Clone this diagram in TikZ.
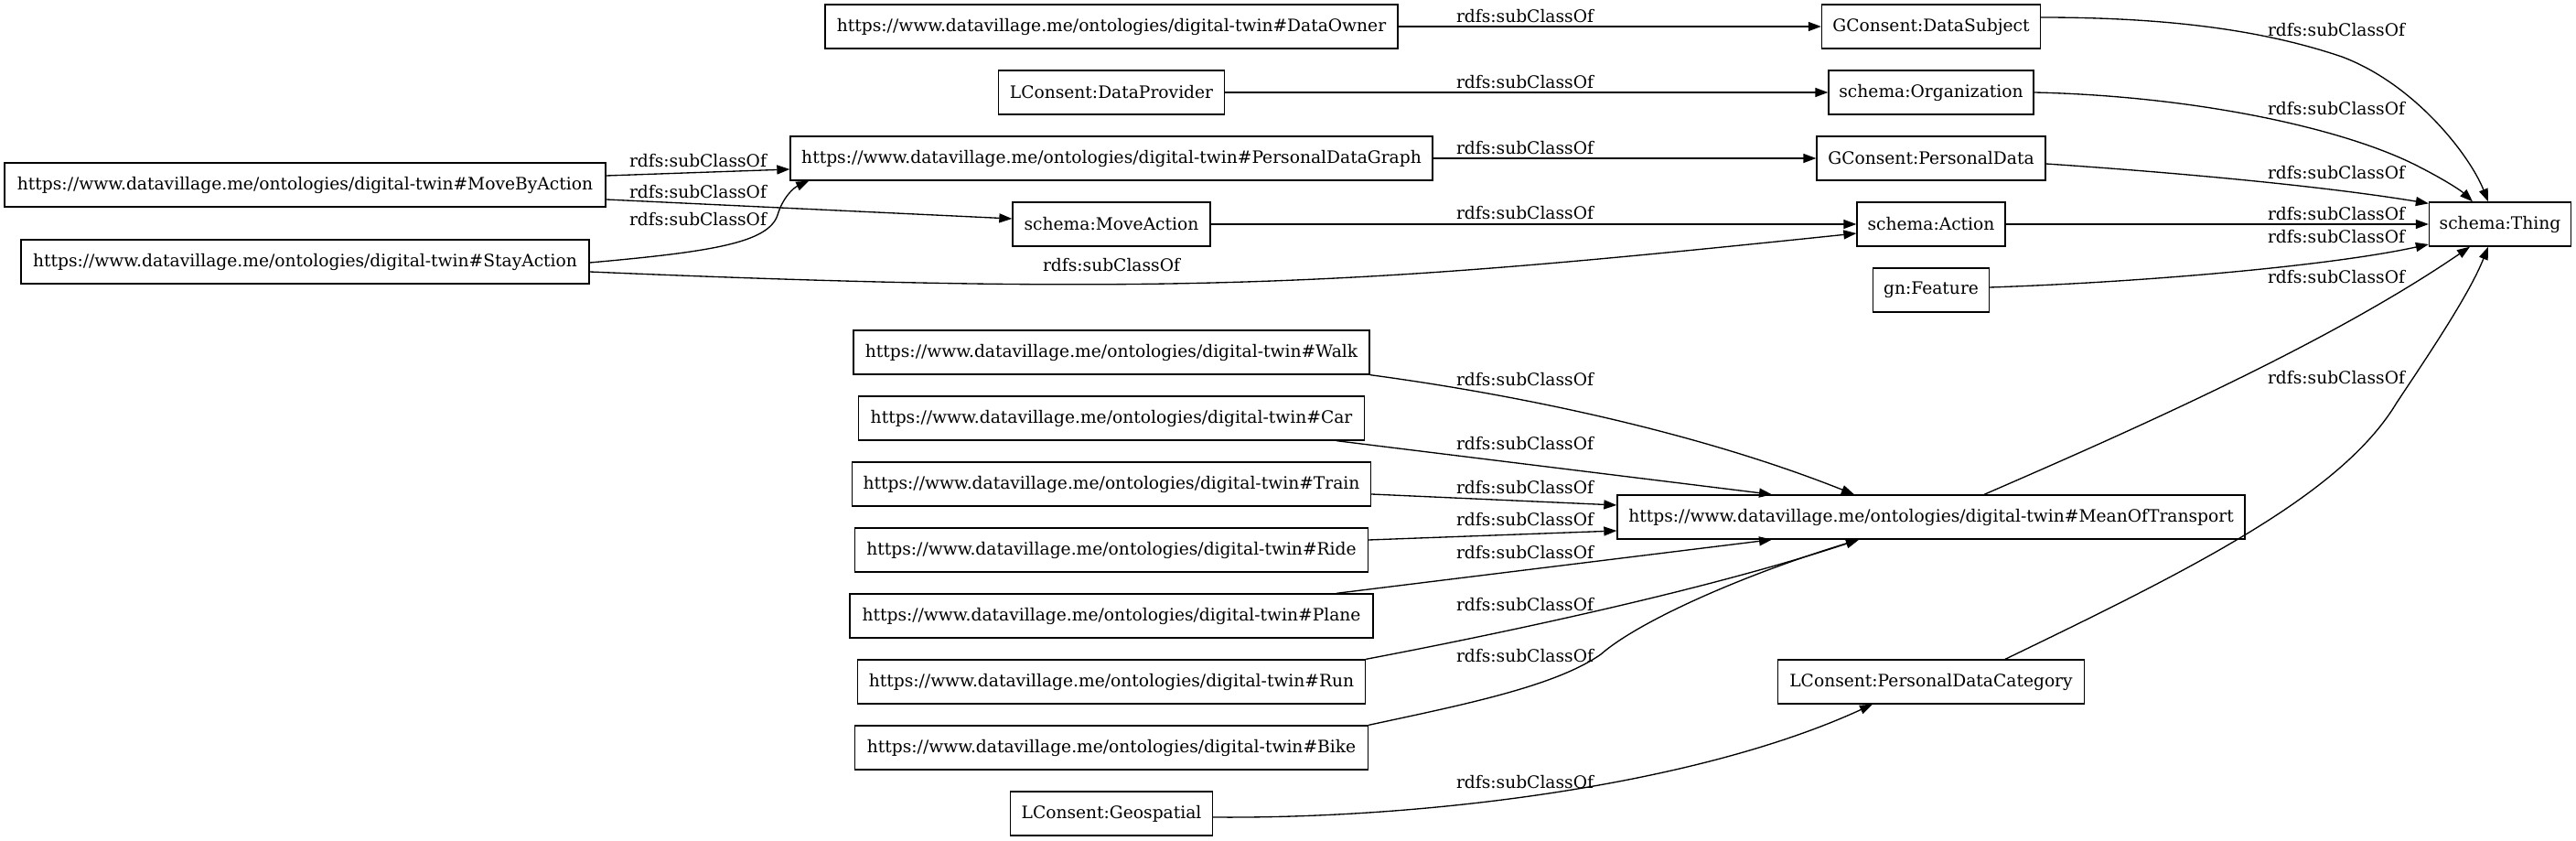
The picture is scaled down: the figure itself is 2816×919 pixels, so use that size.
\documentclass[tikz,border=0pt]{standalone}
\usepackage{fontspec}
\setmainfont{DejaVu Serif}
\usetikzlibrary{arrows.meta,calc}
\newcommand\dvurl{https://www.datavillage.me/ontologies/digital-twin\#}
\tikzset{
 cls/.style={draw, line width=1pt, rectangle, inner xsep=0pt, inner ysep=0pt,
   minimum height=36pt, minimum width=#1*0.75pt, font=\fontsize{14pt}{16pt}\selectfont},
 lbl/.style={inner sep=0pt, font=\fontsize{14pt}{16pt}\selectfont},
 edge/.style={line width=1pt, -{Triangle[length=10.5pt,width=7.5pt]}},
}
\begin{document}
\begin{tikzpicture}[x=0.75pt,y=-0.75pt]
\path[use as bounding box] (0,0) rectangle (2816,919);
% rank 0
\node[cls=657] (mba) at (333.5,202) {\dvurl MoveByAction};
\node[cls=621] (sta) at (333.5,286) {\dvurl StayAction};
% rank 2
\node[cls=626] (dow) at (1215,29) {\dvurl DataOwner};
\node[cls=247] (dpr) at (1215,101) {LConsent:DataProvider};
\node[cls=702] (pdg) at (1215,173) {\dvurl PersonalDataGraph};
\node[cls=216] (mva) at (1215,245) {schema:MoveAction};
\node[cls=564] (walk) at (1215,385) {\dvurl Walk};
\node[cls=553] (car) at (1215,457) {\dvurl Car};
\node[cls=567] (train) at (1215,529) {\dvurl Train};
\node[cls=561] (ride) at (1215,601) {\dvurl Ride};
\node[cls=572] (plane) at (1215,673) {\dvurl Plane};
\node[cls=555] (run) at (1215,745) {\dvurl Run};
\node[cls=561] (bike) at (1215,817) {\dvurl Bike};
\node[cls=221] (geo) at (1215,889) {LConsent:Geospatial};
% rank 4
\node[cls=239] (dsu) at (2111,29) {GConsent:DataSubject};
\node[cls=224] (org) at (2111,101) {schema:Organization};
\node[cls=250] (pda) at (2111,173) {GConsent:PersonalData};
\node[cls=162] (act) at (2111,245) {schema:Action};
\node[cls=127] (fea) at (2111,317) {gn:Feature};
\node[cls=686] (mot) at (2111,565) {\dvurl MeanOfTransport};
\node[cls=335] (pdc) at (2111,745) {LConsent:PersonalDataCategory};
% rank 6
\node[cls=155] (thing) at (2733,245) {schema:Thing};
% labels
\node[lbl] (lab1) at (763,176) {rdfs:subClassOf};
\node[lbl] (lab2) at (763,210) {rdfs:subClassOf};
\node[lbl] (lab3) at (763,240) {rdfs:subClassOf};
\node[lbl] (lab4) at (1215,290) {rdfs:subClassOf};
\node[lbl] (lab5) at (1667,18) {rdfs:subClassOf};
\node[lbl] (lab6) at (1667,90) {rdfs:subClassOf};
\node[lbl] (lab7) at (1667,162) {rdfs:subClassOf};
\node[lbl] (lab8) at (1667,233) {rdfs:subClassOf};
\node[lbl] (lab9) at (1667,415) {rdfs:subClassOf};
\node[lbl] (lab10) at (1667,485) {rdfs:subClassOf};
\node[lbl] (lab11) at (1667,533) {rdfs:subClassOf};
\node[lbl] (lab12) at (1667,568) {rdfs:subClassOf};
\node[lbl] (lab13) at (1667,604) {rdfs:subClassOf};
\node[lbl] (lab14) at (1667,661) {rdfs:subClassOf};
\node[lbl] (lab15) at (1667,717) {rdfs:subClassOf};
\node[lbl] (lab16) at (1667,855) {rdfs:subClassOf};
\node[lbl] (lab17) at (2554,33) {rdfs:subClassOf};
\node[lbl] (lab18) at (2554,119) {rdfs:subClassOf};
\node[lbl] (lab19) at (2554,189) {rdfs:subClassOf};
\node[lbl] (lab20) at (2554,234) {rdfs:subClassOf};
\node[lbl] (lab21) at (2554,259) {rdfs:subClassOf};
\node[lbl] (lab22) at (2554,303) {rdfs:subClassOf};
\node[lbl] (lab23) at (2554,413) {rdfs:subClassOf};
% edges
\draw[edge] ($(mba.east)+(0,-10)$) -- ($(pdg.west)+(0,12)$);
\draw[edge] ($(mba.east)+(0,16)$) -- ($(mva.west)+(0,-6)$);
\draw[edge] ($(sta.east)+(0,1)$) .. controls (780,275) and (840,265) .. (850,235)
  .. controls (856,215) and (868,205) .. ($(pdg.south west)+(21,0)$);
\draw[edge] ($(sta.east)+(0,11)$) .. controls (1300,325) and (1500,310) .. ($(act.west)+(0,10)$);
\draw[edge] (mva.east) -- (act.west);
\draw[edge] (dow.east) -- (dsu.west);
\draw[edge] (dpr.east) -- (org.west);
\draw[edge] (pdg.east) -- (pda.west);
\draw[edge] ($(dsu.east)+(0,-10)$) .. controls (2380,19) and (2480,35) .. (2560,62)
  .. controls (2640,92) and (2700,170) .. ($(thing.north)+(-13,0)$);
\draw[edge] (org.east) .. controls (2400,105) and (2560,140) .. (2640,180)
  .. controls (2670,195) and (2690,208) .. ($(thing.north)+(-30,0)$);
\draw[edge] ($(pda.east)+(0,6)$) .. controls (2400,190) and (2550,205) .. ($(thing.north west)+(0,2)$);
\draw[edge] (act.east) -- (thing.west);
\draw[edge] ($(fea.east)+(0,-3)$) .. controls (2350,308) and (2550,290) .. ($(thing.west)+(0,22)$);
\draw[edge] ($(mot.north)+(58,0)$) .. controls (2350,462) and (2550,372) .. ($(thing.south)+(-33,0)$);
\draw[edge] ($(pdc.north)+(81,0)$) .. controls (2400,620) and (2560,540) .. (2620,440)
  .. controls (2660,380) and (2700,320) .. ($(thing.south)+(-13,0)$);
\draw[edge] (walk.south east) .. controls (1650,430) and (1850,470) .. ($(mot.north)+(-84,0)$);
\draw[edge] ($(car.south)+(246,0)$) -- ($(mot.north)+(-174,0)$);
\draw[edge] ($(train.east)+(0,11)$) -- ($(mot.west)+(0,-13)$);
\draw[edge] ($(ride.east)+(0,-11)$) -- ($(mot.west)+(0,15)$);
\draw[edge] ($(plane.north)+(246,0)$) -- ($(mot.south)+(-174,0)$);
\draw[edge] (run.north east) .. controls (1600,700) and (1850,650) .. ($(mot.south)+(-79,0)$);
\draw[edge] (bike.north east) .. controls (1600,770) and (1700,750) .. (1750,715)
  .. controls (1790,680) and (1900,630) .. ($(mot.south)+(-79,0)$);
\draw[edge] ($(geo.east)+(0,4)$) .. controls (1550,895) and (1850,860) .. ($(pdc.south)+(-64,0)$);
\end{tikzpicture}
\end{document}
